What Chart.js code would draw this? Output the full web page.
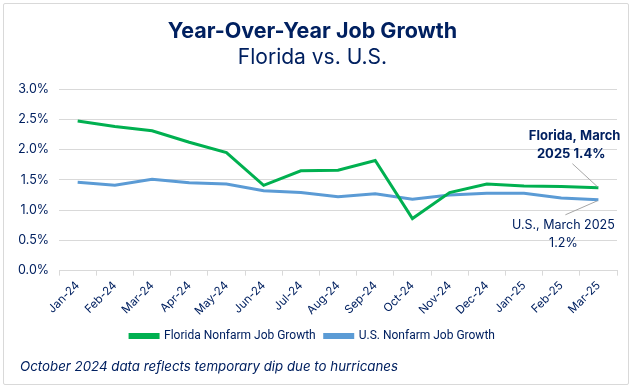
<!DOCTYPE html>
<html>
<head>
<meta charset="utf-8">
<script src="https://cdn.jsdelivr.net/npm/chart.js@4"></script>
<style>
  html, body { margin: 0; padding: 0; background: #fff; }
  .frame {
    position: absolute; left: 3px; top: 3px; width: 624px; height: 380px;
    border: 1px solid #d9d9d9; border-radius: 2px; background: #fff;
  }
  canvas { position: absolute; left: 0; top: 0; }
</style>
</head>
<body>
<div class="frame"></div>
<canvas id="chart" width="636" height="388"></canvas>
<script>
const months = ['Jan-24', 'Feb-24', 'Mar-24', 'Apr-24', 'May-24', 'Jun-24', 'Jul-24', 'Aug-24',
  'Sep-24', 'Oct-24', 'Nov-24', 'Dec-24', 'Jan-25', 'Feb-25', 'Mar-25'];
const floridaGrowth = [2.47, 2.38, 2.31, 2.12, 1.95, 1.41, 1.65, 1.66, 1.82, 0.86, 1.29, 1.43, 1.40, 1.39, 1.37];
const usGrowth = [1.46, 1.41, 1.51, 1.45, 1.43, 1.32, 1.29, 1.22, 1.27, 1.18, 1.25, 1.28, 1.28, 1.20, 1.17];
const yTicks = [0, 0.5, 1.0, 1.5, 2.0, 2.5, 3.0];

const navy = '#002060';
const fontFamily = 'Inter, "Open Sans", sans-serif';
const legendFamily = 'Roboto, Inter, sans-serif';

// End-of-line labels, the footnote and leader lines
const notesPlugin = {
  id: 'notes',
  afterDraw(chart) {
    const { ctx, scales } = chart;
    const last = months.length - 1;
    const fx = scales.x.getPixelForValue(last);
    const fy = scales.y.getPixelForValue(floridaGrowth[last]);
    const uy = scales.y.getPixelForValue(usGrowth[last]);

    ctx.save();
    ctx.strokeStyle = '#a6a6a6';
    ctx.lineWidth = 1;
    ctx.beginPath();
    ctx.moveTo(fx - 26, fy - 24);
    ctx.lineTo(fx - 1, fy - 1);
    ctx.moveTo(fx - 33, uy + 15);
    ctx.lineTo(fx - 1, uy + 1);
    ctx.stroke();

    ctx.fillStyle = navy;
    ctx.textAlign = 'right';
    ctx.textBaseline = 'middle';
    ctx.font = `bold 13px ${fontFamily}`;
    ctx.fillText('Florida, March', fx + 22, fy - 52);
    ctx.fillText('2025 1.4%', fx + 7, fy - 34);

    ctx.font = `12.5px ${fontFamily}`;
    ctx.textAlign = 'center';
    ctx.fillText('U.S., March 2025', fx - 35, uy + 25);
    ctx.fillText('1.2%', fx - 35, uy + 43);

    ctx.textAlign = 'left';
    ctx.font = `italic 13.3px ${fontFamily}`;
    ctx.fillText('October 2024 data reflects temporary dip due to hurricanes', 20, 367);
    ctx.restore();
  }
};

new Chart(document.getElementById('chart'), {
  type: 'line',
  data: {
    labels: months,
    datasets: [
      {
        label: 'Florida Nonfarm Job Growth',
        data: floridaGrowth,
        borderColor: '#00b050',
        backgroundColor: '#00b050',
        borderWidth: 3,
        pointRadius: 0,
        tension: 0
      },
      {
        label: 'U.S. Nonfarm Job Growth',
        data: usGrowth,
        borderColor: '#5b9bd5',
        backgroundColor: '#5b9bd5',
        borderWidth: 3,
        pointRadius: 0,
        tension: 0
      }
    ]
  },
  options: {
    responsive: false,
    animation: false,
    layout: { padding: { left: 8, right: 19, top: 13, bottom: 36 } },
    plugins: {
      title: {
        display: true,
        text: 'Year-Over-Year Job Growth',
        color: navy,
        font: { family: fontFamily, size: 21.5, weight: 'bold' },
        padding: { top: 6, bottom: 0 }
      },
      subtitle: {
        display: true,
        text: 'Florida vs. U.S.',
        color: navy,
        font: { family: fontFamily, size: 21 },
        padding: { bottom: 19 }
      },
      legend: {
        position: 'bottom',
        labels: {
          color: navy,
          font: { family: legendFamily, size: 12 },
          boxWidth: 28,
          boxHeight: 3,
          padding: 9
        }
      },
      tooltip: { enabled: false }
    },
    scales: {
      x: {
        offset: true,
        grid: { drawOnChartArea: false, drawTicks: true, tickLength: 5, color: '#d9d9d9', offset: true },
        border: { color: '#d9d9d9' },
        ticks: {
          color: navy,
          font: { family: fontFamily, size: 11.5 },
          maxRotation: 45,
          minRotation: 45,
          autoSkip: false
        }
      },
      y: {
        min: 0,
        max: 3,
        afterBuildTicks(axis) { axis.ticks = yTicks.map(v => ({ value: v })); },
        grid: { color: '#d9d9d9', drawTicks: false },
        border: { display: false },
        ticks: {
          color: navy,
          padding: 10,
          font: { family: fontFamily, size: 12.5 },
          callback: v => v.toFixed(1) + '%'
        }
      }
    }
  },
  plugins: [notesPlugin]
});
</script>
</body>
</html>
